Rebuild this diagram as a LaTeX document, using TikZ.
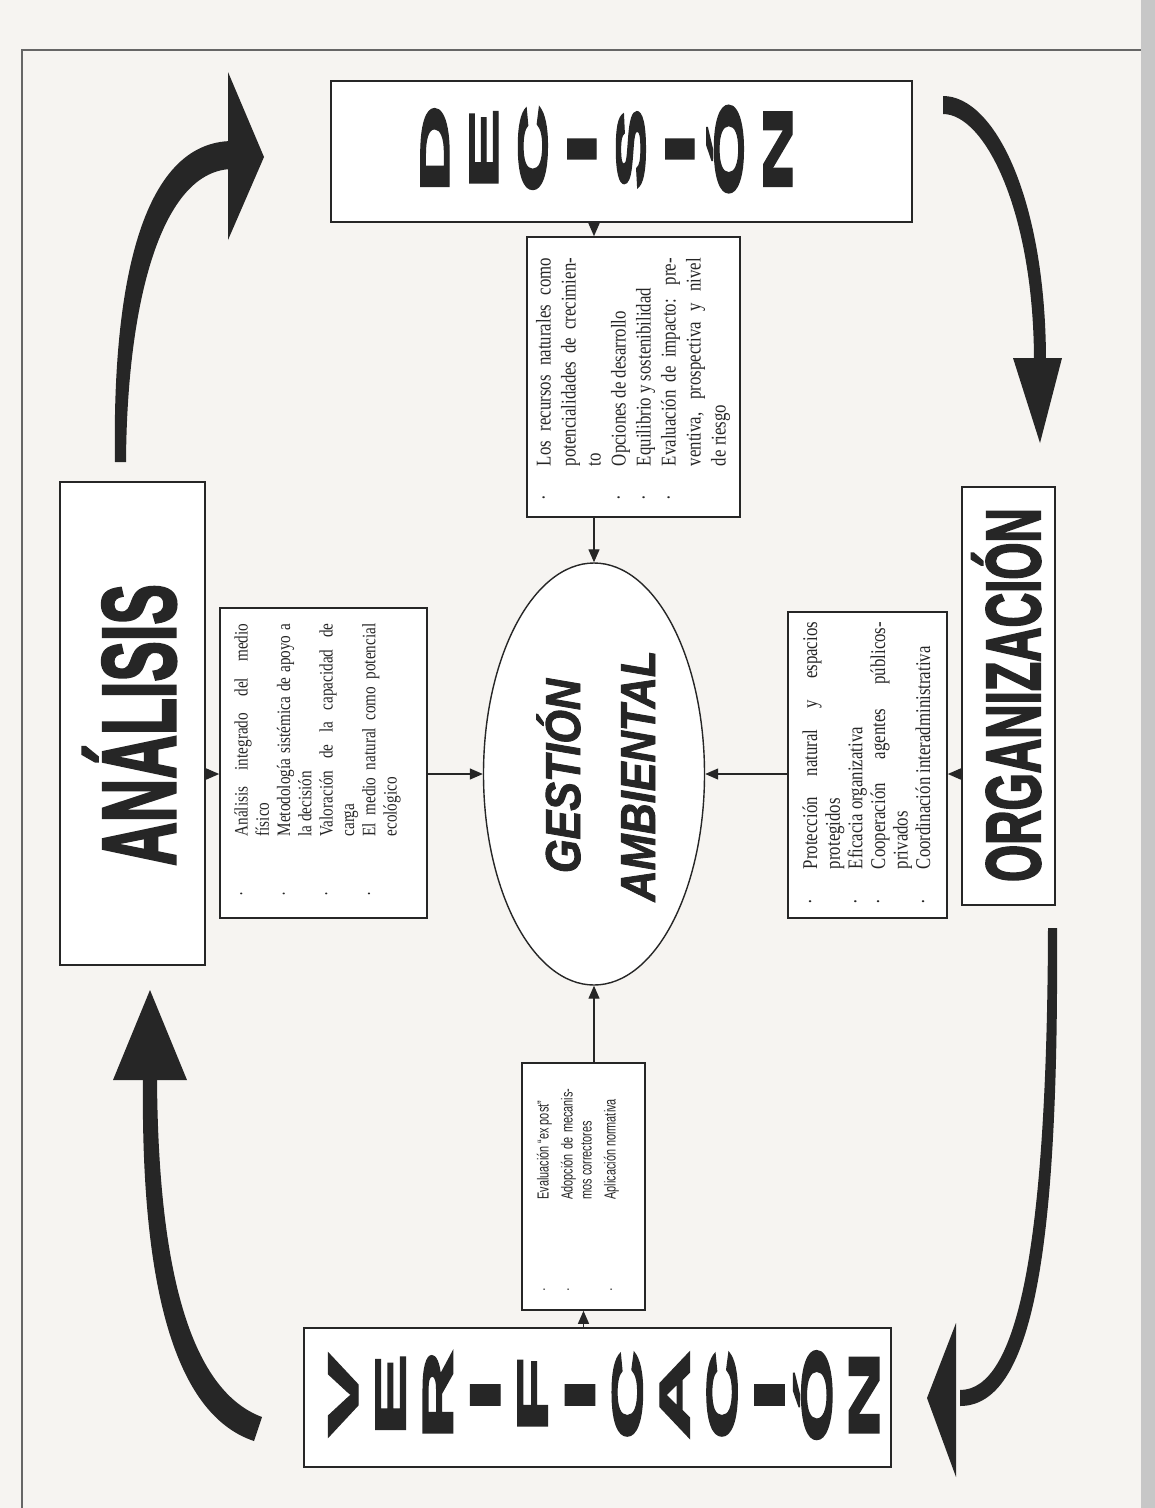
\documentclass[tikz,border=0pt]{standalone}
\usepackage{fontspec}
\usepackage{graphicx}
\setmainfont{Liberation Serif}
\newfontfamily\sansf{Liberation Sans}
\newfontfamily\heavyf{Liberation Sans}[BoldFeatures={FakeBold=3}]
\newfontfamily\heavyit{Liberation Sans}[BoldItalicFeatures={FakeBold=2}]
\usetikzlibrary{arrows.meta,shapes.geometric}
\definecolor{pagebg}{RGB}{246,244,241}
\definecolor{ink}{RGB}{38,38,38}
\newcommand{\bitem}[2]{\par\hangindent=#1\hangafter=1\noindent\makebox[#1][l]{·}#2\par}
\newcommand{\listsetup}{\setlength{\parindent}{0pt}\setlength{\parskip}{0pt}\hyphenpenalty=10000\exhyphenpenalty=10000\tolerance=10000\hbadness=10000}
\tikzset{
  boxframe/.style={draw=ink, line width=1.6pt, fill=white, inner sep=0pt},
  conn/.style={draw=ink, line width=1.3pt, -{Triangle[length=13pt,width=11pt]}},
  arrowfill/.style={fill=ink, draw=none},
  declet/.style={rotate=90, anchor=base, inner sep=0pt, text=ink,
     font={\heavyf\bfseries\fontsize{41pt}{41pt}\selectfont}},
  verlet/.style={rotate=90, anchor=base, inner sep=0pt, text=ink,
     font={\heavyf\bfseries\fontsize{43pt}{43pt}\selectfont}},
  bigword/.style={rotate=90, anchor=base, inner sep=0pt, text=ink},
  listtext/.style={rotate=90, inner sep=0pt, text=ink},
}
\begin{document}
\begin{tikzpicture}[x=1pt,y=-1pt]
\useasboundingbox (0,0) rectangle (1155,1508);
\fill[pagebg] (0,0) rectangle (1155,1508);
\fill[black!22] (1141,0) rectangle (1155,1508);
\draw[black!60, line width=1.4pt] (22,1508) -- (22,50) -- (1141,50);

% main boxes
\node[boxframe, minimum width=581pt, minimum height=141pt] (dec) at (621.5,151.5) {};
\node[boxframe, minimum width=587pt, minimum height=139pt] (ver) at (597.5,1397.5) {};
\node[boxframe, minimum width=145pt, minimum height=483pt] (anal) at (132.5,723.5) {};
\node[boxframe, minimum width=93pt, minimum height=418pt] (org) at (1008.5,696) {};

% content boxes
\node[boxframe, minimum width=213pt, minimum height=280pt] (tc) at (633.5,377) {};
\node[boxframe, minimum width=207pt, minimum height=310pt] (lc) at (323.5,763) {};
\node[boxframe, minimum width=159pt, minimum height=306pt] (rc) at (867.5,765) {};
\node[boxframe, minimum width=123pt, minimum height=247pt] (bc) at (583.5,1186.5) {};

% central ellipse
\node[ellipse, draw=ink, line width=1.4pt, fill=white, minimum width=221pt, minimum height=422pt, inner sep=0pt] (ell) at (594,774) {};

% connectors
\draw[conn] (dec.south -| ell.north) -- (tc.north -| ell.north);
\draw[conn] (tc.south -| ell.north) -- (ell.north);
\draw[conn] (anal.east |- ell.west) -- (lc.west |- ell.west);
\draw[conn] (lc.east |- ell.west) -- (ell.west);
\draw[conn] (org.west |- ell.east) -- (rc.east |- ell.east);
\draw[conn] (rc.west |- ell.east) -- (ell.east);
\draw[conn] (ver.north -| bc.south) -- (bc.south);
\draw[conn] (bc.north -| ell.south) -- (ell.south);

% DECISION letters
\foreach \L [count=\i] in {D,E,C,I,S,I,Ó,N}
  \node[declet] (d\i) at ({449+49*(\i-1)},149) {\scalebox{3}[1]{\L}};
% VERIFICACION letters
\foreach \L [count=\i] in {V,E,R,I,F,I,C,A,C,I,Ó,N}
  \node[verlet] (v\i) at ({358+47.36*(\i-1)},1395) {\scalebox{2.9}[1]{\L}};

% big words
\node[bigword, font={\heavyf\bfseries\fontsize{104pt}{104pt}\selectfont}] (analw) at (175,725) {\scalebox{0.58}[1]{ANÁLISIS}};
\node[bigword, font={\heavyf\bfseries\fontsize{77pt}{77pt}\selectfont}] (orgw) at (1040,695) {\scalebox{0.62}[1]{ORGANIZACIÓN}};
\node[bigword, font={\heavyit\bfseries\itshape\fontsize{49pt}{49pt}\selectfont}] (gest) at (580,776) {\scalebox{0.88}[1]{GESTIÓN}};
\node[bigword, font={\heavyit\bfseries\itshape\fontsize{49pt}{49pt}\selectfont}] (amb) at (655,776) {\scalebox{0.88}[1]{AMBIENTAL}};

% list texts
\node[listtext] (tct) at (633,379) {\scalebox{0.8}[1]{\parbox{302.5pt}{\listsetup\fontsize{21pt}{25pt}\selectfont
  \bitem{42.5pt}{Los recursos naturales como\linebreak potencialidades de crecimien-\linebreak to}
  \bitem{42.5pt}{Opciones de desarrollo}
  \bitem{42.5pt}{Equilibrio y sostenibilidad}
  \bitem{42.5pt}{Evaluación de impacto: pre-\linebreak ventiva, prospectiva y nivel\linebreak de riesgo}}}};

\node[listtext] (lct) at (317.5,760) {\scalebox{0.8}[1]{\parbox{341pt}{\listsetup\fontsize{19pt}{21.3pt}\selectfont
  \bitem{75pt}{Análisis integrado del medio\linebreak físico}
  \bitem{75pt}{Metodología sistémica de apoyo a\linebreak la decisión}
  \bitem{75pt}{Valoración de la capacidad de\linebreak carga}
  \bitem{75pt}{El medio natural como potencial\linebreak ecológico}}}};

\node[listtext] (rct) at (866.5,763) {\scalebox{0.8}[1]{\parbox{352.5pt}{\listsetup\fontsize{21pt}{22.6pt}\selectfont
  \bitem{43.75pt}{Protección natural y espacios\linebreak protegidos}
  \bitem{43.75pt}{Eficacia organizativa}
  \bitem{43.75pt}{Cooperación agentes públicos-\linebreak privados}
  \bitem{43.75pt}{Coordinación interadministrativa}}}};

\node[listtext] (bct) at (578,1190) {\scalebox{0.68}[1]{\parbox{298.3pt}{\listsetup\setlength{\parskip}{5pt}\sansf\fontsize{16pt}{19pt}\selectfont
  \bitem{135.3pt}{Evaluación “ex post”}
  \bitem{135.3pt}{Adopción de mecanis-\linebreak mos correctores}
  \bitem{135.3pt}{Aplicación normativa}}}};

% big cycle arrows
\fill[arrowfill] (115,462) .. controls (112,290) and (140,141) .. (233,141)
  -- (233,169) .. controls (162,169) and (127,300) .. (126,462) -- cycle;
\fill[arrowfill] (228,72) -- (264,157) -- (228,240) -- cycle;

\fill[arrowfill] (943,96) .. controls (995,96) and (1046,200) .. (1046,362)
  -- (1034,362) .. controls (1034,212) and (985,114) .. (943,114) -- cycle;
\fill[arrowfill] (1013,358) -- (1062,358) -- (1040,443) -- cycle;

\fill[arrowfill] (1057,928) .. controls (1059,1255) and (1032,1406) .. (960,1406)
  -- (960,1390) .. controls (1017,1390) and (1047,1250) .. (1048,928) -- cycle;
\fill[arrowfill] (956,1323) -- (927,1398) -- (956,1477) -- cycle;

\fill[arrowfill] (143,1076) .. controls (140,1315) and (185,1418) .. (254,1441)
  -- (262,1417) .. controls (203,1395) and (158,1305) .. (157,1076) -- cycle;
\fill[arrowfill] (113,1080) -- (150,990) -- (187,1080) -- cycle;
\end{tikzpicture}
\end{document}
